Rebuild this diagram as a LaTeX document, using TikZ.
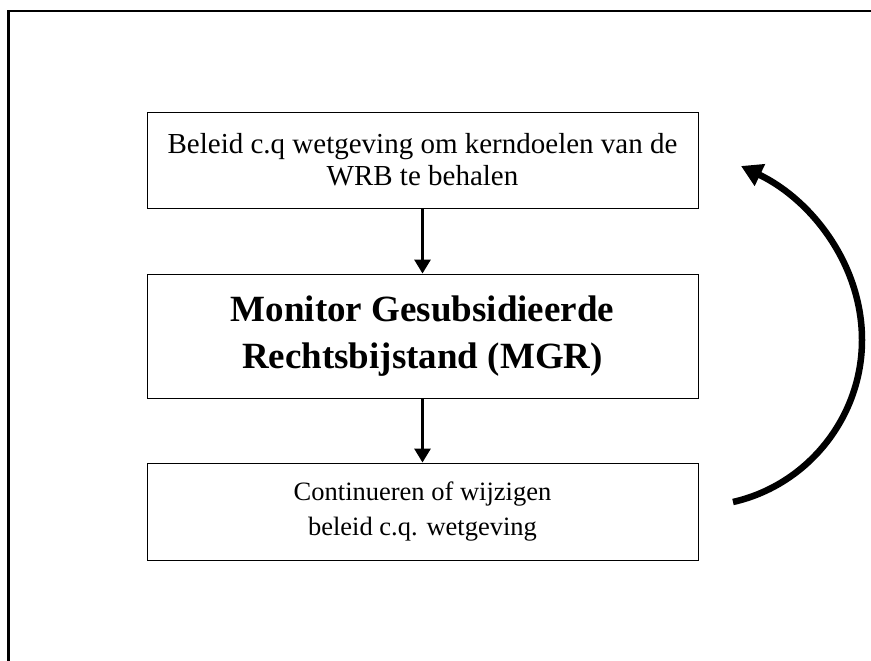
\documentclass[tikz,border=0pt]{standalone}
\usepackage{fontspec}
\setmainfont{Liberation Serif}
\usetikzlibrary{arrows.meta}
\begin{document}
\begin{tikzpicture}[x=1pt,y=-1pt,
  box/.style={draw=black, line width=0.9pt, minimum width=551pt, inner sep=0pt, align=center},
  toptext/.style={font=\fontsize{29}{32}\selectfont},
  bottext/.style={font=\fontsize{26.5}{35}\selectfont},
  boldtext/.style={font=\fontsize{37}{47}\selectfont\bfseries},
  flowarrow/.style={line width=3pt, -{Triangle[length=14pt,width=16pt]}},
  looparrow/.style={line width=6.5pt, -{Triangle[length=21pt,width=23pt]}},
  framestyle/.style={line width=2.8pt}]
\useasboundingbox (0,0) rectangle (871,661);
\draw[framestyle] (8.3,661) -- (8.3,11) -- (871,11);
\node[box, toptext, minimum height=96pt] (top) at (422.5,160)
  {Beleid c.q wetgeving om kerndoelen van de\\WRB te behalen};
\node[box, boldtext, minimum height=124pt] (mid) at (422.5,336)
  {Monitor Gesubsidieerde\\Rechtsbijstand (MGR)};
\node[box, bottext, minimum height=97pt] (bot) at (422.5,511.5)
  {Continueren of wijzigen\\beleid c.q. wetgeving};
\draw[flowarrow] (top.south) -- (mid.north);
\draw[flowarrow] (mid.south) -- (bot.north);
\coordinate (loopstart) at (733,502);
\coordinate (looptip) at (741,166);
\draw[looparrow] (loopstart) .. controls (808,485) and (862,417) .. (862,340)
  .. controls (862,265) and (812,200) .. (looptip);
\end{tikzpicture}
\end{document}
